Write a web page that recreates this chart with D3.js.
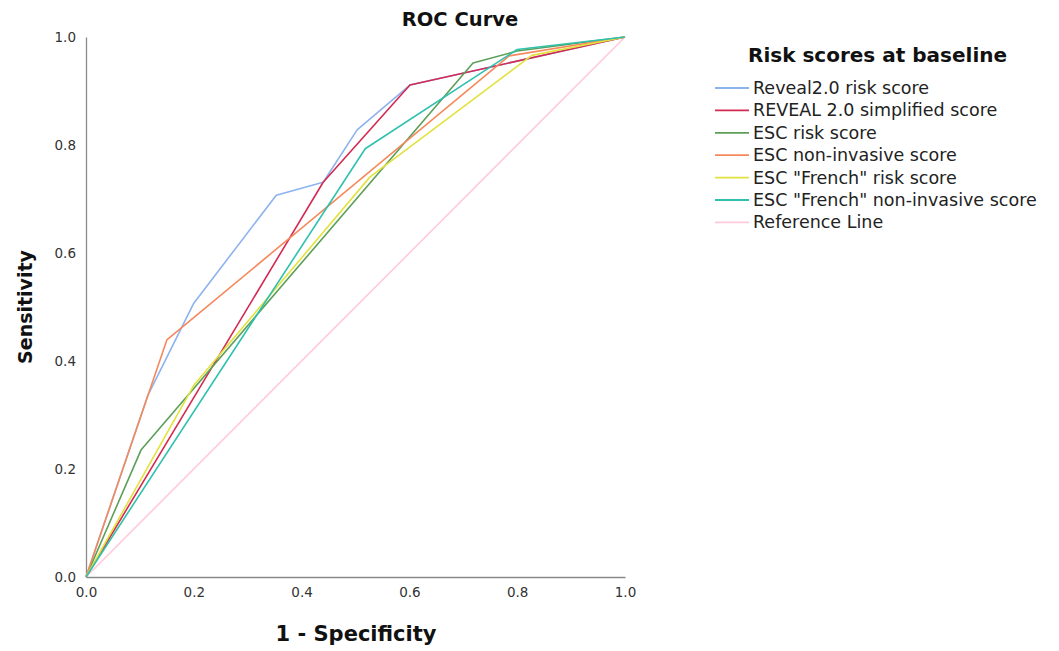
<!DOCTYPE html>
<html>
<head>
<meta charset="utf-8">
<script src="https://cdn.jsdelivr.net/npm/d3@7/dist/d3.min.js"></script>
<style>
  html, body { margin: 0; padding: 0; background: #fff; }
  svg { display: block; }
  text { font-family: "DejaVu Sans", sans-serif; }
</style>
</head>
<body>
<svg id="chart" width="1059" height="651"></svg>
<script>
// ROC coordinates per score: [1 - specificity, sensitivity]
const reveal2 = [[0, 0], [0.115, 0.337], [0.2, 0.507], [0.353, 0.707], [0.44, 0.731], [0.503, 0.828], [0.601, 0.911], [1, 1]];
const revealSimplified = [[0, 0], [0.44, 0.731], [0.601, 0.911], [1, 1]];
const escRisk = [[0, 0], [0.102, 0.235], [0.718, 0.952], [0.80, 0.974], [1, 1]];
const escNonInvasive = [[0, 0], [0.15, 0.439], [0.785, 0.965], [1, 1]];
const escFrenchRisk = [[0, 0], [0.2, 0.355], [0.527, 0.741], [0.827, 0.966], [1, 1]];
const escFrenchNonInvasive = [[0, 0], [0.518, 0.793], [0.80, 0.977], [1, 1]];
const referenceLine = [[0, 0], [1, 1]];

const seriesNames = [
  "Reveal2.0 risk score",
  "REVEAL 2.0 simplified score",
  "ESC risk score",
  "ESC non-invasive score",
  "ESC \"French\" risk score",
  "ESC \"French\" non-invasive score",
  "Reference Line"
];
const seriesData = [reveal2, revealSimplified, escRisk, escNonInvasive, escFrenchRisk, escFrenchNonInvasive, referenceLine];
const seriesColors = ["#8db3ee", "#d42a52", "#5c9f59", "#f5895c", "#e2e23e", "#2fc0ae", "#ffcadc"];
const tickValues = [0, 0.2, 0.4, 0.6, 0.8, 1.0];

const svg = d3.select("#chart");
const plot = { left: 86, right: 625, top: 37, bottom: 577 };

const x = d3.scaleLinear().domain([0, 1]).range([plot.left, plot.right]);
const y = d3.scaleLinear().domain([0, 1]).range([plot.bottom, plot.top]);

// Axes without tick marks, light grey spines
const xAxis = svg.append("g")
  .attr("transform", `translate(0,${plot.bottom})`)
  .call(d3.axisBottom(x).tickValues(tickValues).tickFormat(d3.format(".1f")).tickSize(0).tickPadding(10));
const yAxis = svg.append("g")
  .attr("transform", `translate(${plot.left},0)`)
  .call(d3.axisLeft(y).tickValues(tickValues).tickFormat(d3.format(".1f")).tickSize(0).tickPadding(10));

[xAxis, yAxis].forEach(g => {
  g.select(".domain").attr("stroke", "#8a8a8a").attr("stroke-width", 1.3);
  g.selectAll("text").attr("fill", "#333").style("font-size", "13.5px").style("font-family", "\"DejaVu Sans\", sans-serif");
});

// Curves, drawn in legend order
const line = d3.line().x(d => x(d[0])).y(d => y(d[1]));
const drawOrder = [6, 0, 1, 2, 3, 4, 5];
svg.append("g").attr("fill", "none")
  .selectAll("path")
  .data(drawOrder)
  .join("path")
  .attr("d", i => line(seriesData[i]))
  .attr("stroke", i => seriesColors[i])
  .attr("stroke-width", 1.6)
  .attr("stroke-linejoin", "round");

// Titles
svg.append("text")
  .attr("x", 460).attr("y", 26)
  .attr("text-anchor", "middle")
  .style("font-size", "19.5px").style("font-weight", "bold")
  .attr("fill", "#111")
  .text("ROC Curve");

svg.append("text")
  .attr("x", 356).attr("y", 641)
  .attr("text-anchor", "middle")
  .style("font-size", "21px").style("font-weight", "bold")
  .attr("fill", "#111")
  .text("1 - Specificity");

svg.append("text")
  .attr("transform", "translate(32,307) rotate(-90)")
  .attr("text-anchor", "middle")
  .style("font-size", "19px").style("font-weight", "bold")
  .attr("fill", "#111")
  .text("Sensitivity");

// Legend
const legend = svg.append("g").attr("transform", "translate(715,0)");
legend.append("text")
  .attr("x", 33).attr("y", 62)
  .style("font-size", "20px").style("font-weight", "bold")
  .attr("fill", "#111")
  .text("Risk scores at baseline");

const rows = legend.selectAll("g.row")
  .data(seriesNames)
  .join("g")
  .attr("class", "row")
  .attr("transform", (d, i) => `translate(0,${88 + i * 22.4})`);
rows.append("line")
  .attr("x1", 0).attr("x2", 34)
  .attr("y1", 0).attr("y2", 0)
  .attr("stroke", (d, i) => seriesColors[i])
  .attr("stroke-width", 1.8);
rows.append("text")
  .attr("x", 38).attr("y", 6)
  .style("font-size", "17.5px")
  .attr("fill", "#222")
  .text(d => d);
</script>
</body>
</html>
